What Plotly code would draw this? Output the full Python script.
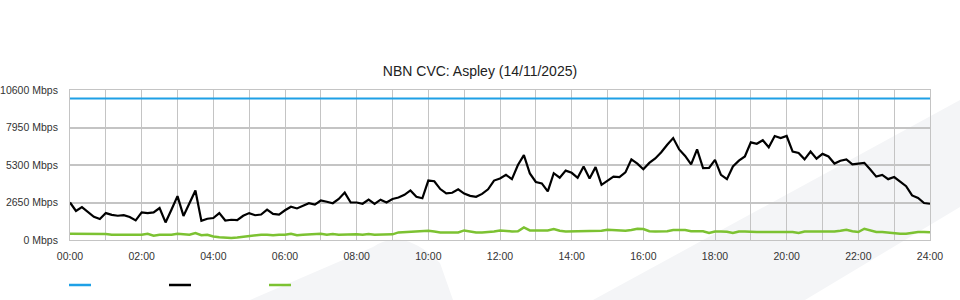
import plotly.graph_objects as go

# ---- data (10-minute samples, hours 0..24) ----
hours = [i / 6 for i in range(145)]

download = [
    2650, 2050, 2326, 2000, 1640, 1480, 1903, 1780, 1713, 1760,
    1621, 1382, 1946, 1900, 1946, 2256, 1241, 2150, 3100, 1700,
    2600, 3497, 1350, 1500, 1550, 1900, 1380, 1430, 1400, 1713,
    1900, 1750, 1800, 2150, 1850, 1800, 2100, 2350, 2230, 2400,
    2600, 2500, 2790, 2700, 2600, 2900, 3350, 2650, 2650, 2560,
    2860, 2550, 2850, 2650, 2900, 3000, 3190, 3500, 3050, 2950,
    4200, 4150, 3600, 3300, 3340, 3580, 3280, 3120, 3050, 3260,
    3580, 4200, 4350, 4600, 4300, 5300, 6000, 4700, 4100, 4000,
    3430, 4720, 4400, 4900, 4750, 4400, 5200, 4350, 5150, 3900,
    4200, 4480, 4450, 4780, 5700, 5400, 5000, 5450, 5760, 6200,
    6730, 7200, 6400, 5940, 5350, 6400, 5075, 5100, 5660, 4600,
    4300, 5200, 5610, 5900, 6900, 6800, 7050, 6550, 7350, 7200,
    7350, 6250, 6150, 5700, 6250, 5750, 6085, 5900, 5400, 5600,
    5700, 5350, 5400, 5450, 4980, 4480, 4600, 4300, 4450, 4130,
    3800, 3150, 2970, 2610, 2560,
]

upload = [
    444, 444, 444, 444, 444, 444, 420, 374, 374, 374,
    374, 374, 374, 444, 303, 374, 374, 374, 444, 420,
    374, 493, 340, 374, 254, 200, 170, 140, 170, 220,
    280, 340, 374, 374, 330, 374, 374, 444, 340, 374,
    400, 374, 444, 374, 420, 374, 400, 374, 400, 374,
    420, 374, 400, 374, 400, 536, 570, 606, 606, 677,
    660, 606, 536, 536, 536, 536, 677, 600, 536, 536,
    560, 600, 677, 620, 606, 620, 888, 680, 677, 650,
    680, 775, 650, 606, 606, 606, 620, 606, 640, 650,
    726, 700, 700, 660, 700, 796, 780, 620, 606, 606,
    620, 700, 726, 700, 620, 606, 620, 493, 606, 606,
    580, 493, 600, 600, 564, 564, 564, 564, 600, 564,
    606, 564, 493, 606, 606, 606, 620, 606, 606, 660,
    726, 620, 564, 796, 700, 564, 564, 520, 444, 444,
    444, 520, 564, 564, 540,
]

capacity_hours = [0, 24]
capacity = [10000, 10000]

y_ticks = [0, 2650, 5300, 7950, 10600]
y_labels = ["0 Mbps", "2650 Mbps", "5300 Mbps", "7950 Mbps", "10600 Mbps"]
x_ticks = list(range(0, 25, 2))
x_labels = [f"{h:02d}:00" for h in x_ticks]

title_text = "NBN CVC: Aspley (14/11/2025)"

COL_CAP = "#1ea0e6"
COL_DOWN = "#000000"
COL_UP = "#7cc232"

# ---- layout helpers (pixel -> paper) ----
L, R, T, B = 70, 30, 90, 60
W, H = 960, 300
PW, PH = W - L - R, H - T - B


def px_x(px):
    return (px - L) / PW


def px_y(py):
    return (H - B - py) / PH


def P(px, py):
    return f"{px_x(px):.5f},{px_y(py):.5f}"


FONT = "Liberation Sans, Arial, sans-serif"
GRAY_BG = "#f4f5f7"

fig = go.Figure()
fig.add_trace(go.Scatter(x=capacity_hours, y=capacity, mode="lines", name="Capacity",
                         line=dict(color=COL_CAP, width=2), showlegend=False))
fig.add_trace(go.Scatter(x=hours, y=download, mode="lines", name="Download",
                         line=dict(color=COL_DOWN, width=2.2), showlegend=False))
fig.add_trace(go.Scatter(x=hours, y=upload, mode="lines", name="Upload",
                         line=dict(color=COL_UP, width=2.5), showlegend=False))

shapes = [
    dict(type="path", xref="paper", yref="paper", layer="below",
         path=f"M{P(250,300)} L{P(373,247)} Q{P(403,226)} {P(440,263)} L{P(453,300)} Z",
         fillcolor=GRAY_BG, line=dict(width=0)),
    dict(type="path", xref="paper", yref="paper", layer="below",
         path=f"M{P(593,300)} L{P(960,100)} L{P(960,207)} L{P(805,300)} Z",
         fillcolor=GRAY_BG, line=dict(width=0)),
]
# legend swatches (no visible labels in the original)
for x0, col in [(69, COL_CAP), (169, COL_DOWN), (269, COL_UP)]:
    shapes.append(dict(type="line", xref="paper", yref="paper",
                       x0=px_x(x0), x1=px_x(x0 + 22), y0=px_y(285), y1=px_y(285),
                       line=dict(color=col, width=2.5)))

fig.update_layout(
    width=W, height=H,
    margin=dict(l=L, r=R, t=T, b=B),
    paper_bgcolor="white",
    plot_bgcolor="rgba(0,0,0,0)",
    font=dict(family=FONT, size=10.5, color="#333333"),
    title=dict(text=title_text, x=0.5, xref="container", xanchor="center",
               y=1 - 71 / H, yref="container", yanchor="middle",
               font=dict(family=FONT, size=14, color="#222222")),
    shapes=shapes,
    showlegend=False,
    xaxis=dict(range=[0, 24], tickvals=x_ticks, ticktext=x_labels,
               showgrid=True, gridcolor="#c4c4c4", gridwidth=1,
               minor=dict(dtick=1, tick0=0, showgrid=True, gridcolor="#c4c4c4", gridwidth=1),
               showline=True, linecolor="#c4c4c4", linewidth=1, mirror=True,
               zeroline=False, ticks="outside", ticklen=6, tickcolor="rgba(0,0,0,0)",
               fixedrange=True, automargin=False),
    yaxis=dict(range=[0, 10600], tickvals=y_ticks, ticktext=y_labels,
               showgrid=True, gridcolor="#c4c4c4", gridwidth=2,
               showline=True, linecolor="#c4c4c4", linewidth=1, mirror=True,
               zeroline=False, ticks="outside", ticklen=9, tickcolor="rgba(0,0,0,0)",
               fixedrange=True, automargin=False),
)

fig.write_html("out.html")
